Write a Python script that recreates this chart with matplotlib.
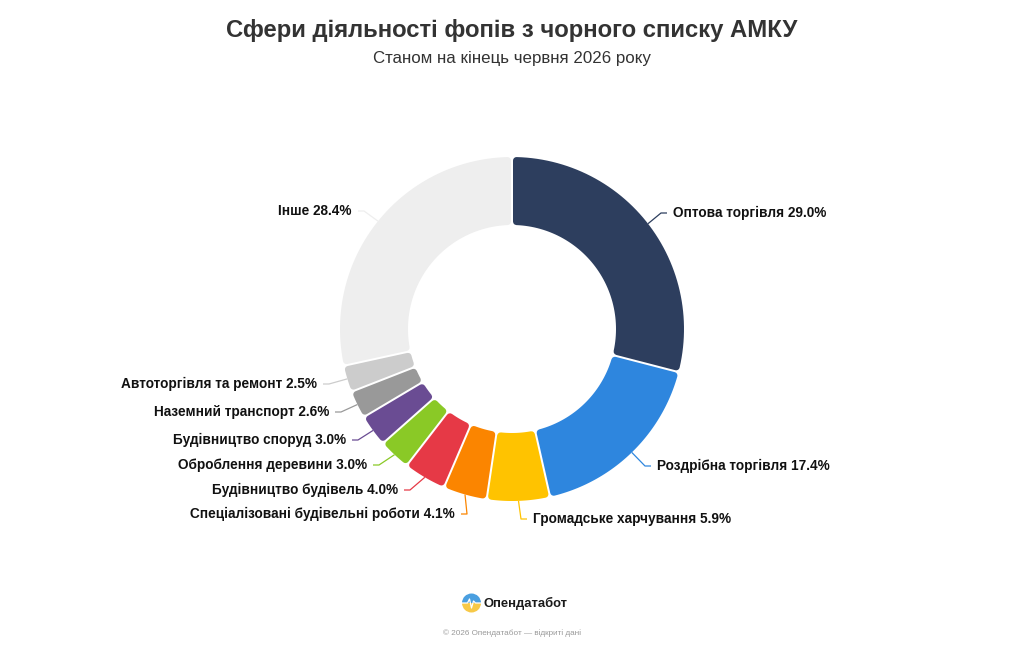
import numpy as np
import matplotlib
matplotlib.use("Agg")
import matplotlib.pyplot as plt
from matplotlib.patches import Wedge, Polygon

plt.rcParams['font.family'] = ['Liberation Sans', 'DejaVu Sans']

# --- data ---
categories = ['Оптова торгівля', 'Роздрібна торгівля', 'Громадське харчування',
              'Спеціалізовані будівельні роботи', 'Будівництво будівель',
              'Оброблення деревини', 'Будівництво споруд', 'Наземний транспорт',
              'Автоторгівля та ремонт', 'Інше']
shares = [29.0, 17.4, 5.9, 4.1, 4.0, 3.0, 3.0, 2.6, 2.5, 28.4]
colors = ['#2d3e5e', '#2e86de', '#ffc300', '#fb8500', '#e63946',
          '#8ac926', '#6a4c93', '#999999', '#cccccc', '#eeeeee']

title = 'Сфери діяльності фопів з чорного списку АМКУ'
subtitle = 'Станом на кінець червня 2026 року'

# label layout (pixel coords, top-down): x of text edge, y of text centre, side
label_pos = [(673, 213, 'l'), (657, 466, 'l'), (533, 519, 'l'),
             (455, 514, 'r'), (398, 490, 'r'), (367, 465, 'r'),
             (346, 440, 'r'), (329, 412, 'r'), (317, 384, 'r'), (352, 211, 'r')]

W, H = 1024, 649
fig = plt.figure(figsize=(W / 100, H / 100), dpi=100)
ax = fig.add_axes([0, 0, 1, 1])

cx, cy = 512, 329
R, ring = 172, 68
rc = 3.5      # corner rounding, px
gap = 1.0     # half gap between slices, px

wedges, _ = ax.pie(shares, colors=colors, startangle=90, counterclock=False,
                   radius=R, center=(cx, H - cy),
                   wedgeprops=dict(width=ring))

# replace each wedge by a rounded one with an even gap
r_out, r_in = R - rc, R - ring + rc
off = rc + gap
for w, c in zip(wedges, colors):
    t1, t2 = np.radians(w.theta1), np.radians(w.theta2)
    w.mid = (w.theta1 + w.theta2) / 2
    w.set_visible(False)
    a1o = t1 + np.arcsin(off / r_out)
    a2o = t2 - np.arcsin(off / r_out)
    a1i = t1 + np.arcsin(off / r_in)
    a2i = t2 - np.arcsin(off / r_in)
    outer = np.linspace(a1o, a2o, 60)
    inner = np.linspace(a2i, a1i, 60)
    pts = np.vstack([
        np.column_stack([cx + r_out * np.cos(outer), H - cy + r_out * np.sin(outer)]),
        np.column_stack([cx + r_in * np.cos(inner), H - cy + r_in * np.sin(inner)]),
    ])
    ax.add_patch(Polygon(pts, closed=True, facecolor=c, edgecolor=c,
                         lw=2 * rc * 72 / 100, joinstyle='round'))

for w, name, v, c, (tx, ty, side) in zip(wedges, categories, shares, colors, label_pos):
    a = np.radians(w.mid)
    x0 = cx + R * np.cos(a)
    y0 = (H - cy) + R * np.sin(a)
    yy = H - ty
    if side == 'l':
        xs = [x0, tx - 12, tx - 6]
        ha = 'left'
    else:
        xs = [x0, tx + 12, tx + 6]
        ha = 'right'
    ax.plot(xs, [y0, yy, yy], color=c, lw=0.9, solid_capstyle='butt')
    ax.text(tx, yy, f'{name} {v:.1f}%', ha=ha, va='center',
            fontsize=9.85, fontweight='bold', color='#111111')

# titles
ax.text(W / 2, H - 31, title, ha='center', va='center', fontsize=17.2,
        fontweight='bold', color='#333333')
ax.text(W / 2, H - 58, subtitle, ha='center', va='center', fontsize=12.2,
        color='#333333')

# logo
lx, ly, lr = 471.5, H - 603, 9.5
ax.add_patch(Wedge((lx, ly), lr, 0, 180, color='#4a9fe0', lw=0))
ax.add_patch(Wedge((lx, ly), lr, 180, 360, color='#f7c948', lw=0))
ax.plot([lx - lr, lx - 4, lx - 2, lx, lx + 2, lx + 4, lx + lr],
        [ly, ly, ly + 4, ly - 5, ly + 2, ly, ly], color='white', lw=0.9)
ax.text(483, ly, 'Опендатабот', ha='left', va='center', fontsize=9.4,
        fontweight='bold', color='#1a1a1a')
ax.text(W / 2, H - 633, '© 2026 Опендатабот — відкриті дані', ha='center',
        va='center', fontsize=5.9, color='#999999')

ax.set_xlim(0, W)
ax.set_ylim(0, H)
ax.set_aspect('equal')
ax.axis('off')

fig.savefig('out.png', dpi=100, facecolor='white')
